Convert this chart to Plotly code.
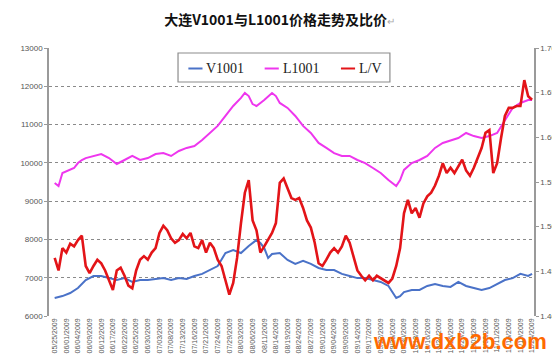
import plotly.graph_objects as go

# Tick labels (every 3rd trading day)
tick_labels = ["05/25/2009", "06/01/2009", "06/04/2009", "06/09/2009", "06/12/2009", "06/17/2009",
               "06/22/2009", "06/25/2009", "06/30/2009", "07/03/2009", "07/08/2009", "07/13/2009",
               "07/16/2009", "07/21/2009", "07/24/2009", "07/29/2009", "08/03/2009", "08/06/2009",
               "08/11/2009", "08/14/2009", "08/19/2009", "08/24/2009", "08/27/2009", "09/01/2009",
               "09/04/2009", "09/09/2009", "09/14/2009", "09/17/2009", "09/22/2009", "09/25/2009",
               "09/30/2009", "10/13/2009", "10/16/2009", "10/21/2009", "10/26/2009", "10/29/2009",
               "11/03/2009", "11/06/2009", "11/11/2009", "11/16/2009", "11/19/2009", "11/24/2009"]

# V1001 (left axis), sampled by trading-day index
v_day = [0, 2, 4, 6, 8, 10, 12, 14, 16, 18, 20, 22, 24, 26, 28, 30, 32, 34, 36, 38, 40, 42, 44, 46,
         48, 50, 52, 53, 54, 55, 56, 58, 60, 62, 64, 66, 68, 70, 72, 74, 76, 78, 80, 82, 84, 86, 87,
         88, 89, 90, 92, 94, 96, 98, 100, 102, 104, 106, 108, 110, 112, 114, 116, 118, 120, 122, 123]
v1001 = [6470, 6520, 6600, 6730, 6940, 7045, 7045, 6990, 6940, 6990, 6890, 6940, 6940, 6965, 6990,
         6940, 6990, 6965, 7045, 7100, 7200, 7305, 7645, 7725, 7645, 7830, 7985, 7905, 7775, 7515,
         7620, 7645, 7465, 7360, 7440, 7360, 7255, 7200, 7200, 7100, 7045, 6990, 6990, 6940, 6890,
         6785, 6625, 6470, 6520, 6625, 6680, 6680, 6785, 6835, 6785, 6760, 6890, 6785, 6730, 6680,
         6730, 6835, 6940, 6990, 7100, 7045, 7100]

# L1001 (left axis)
l_day = [0, 1, 2, 3, 4, 5, 6, 7, 8, 10, 12, 14, 16, 18, 20, 22, 24, 26, 28, 30, 32, 34, 36, 38, 40,
         42, 44, 46, 48, 49, 50, 51, 52, 54, 56, 57, 58, 60, 62, 64, 66, 68, 70, 72, 74, 76, 78, 80,
         82, 84, 86, 88, 89, 90, 92, 94, 96, 98, 100, 102, 104, 106, 108, 110, 112, 114, 116, 118,
         120, 122, 123]
l1001 = [9475, 9395, 9735, 9785, 9815, 9865, 9995, 10075, 10125, 10180, 10230, 10125, 9970, 10075,
         10180, 10075, 10125, 10230, 10255, 10180, 10310, 10390, 10440, 10595, 10780, 10965, 11225,
         11485, 11695, 11825, 11745, 11535, 11485, 11640, 11825, 11745, 11565, 11435, 11225, 10965,
         10780, 10520, 10390, 10255, 10180, 10180, 10075, 9995, 9865, 9735, 9550, 9395, 9550, 9815,
         9995, 10075, 10180, 10390, 10520, 10595, 10650, 10780, 10700, 10650, 10700, 10780, 11120,
         11435, 11565, 11640, 11640]

# L/V ratio (right axis), every trading day
r_day = list(range(124))
ratio = [1.465, 1.451, 1.476, 1.471, 1.481, 1.478, 1.485, 1.490, 1.456, 1.448, 1.456, 1.463, 1.459,
         1.451, 1.440, 1.429, 1.451, 1.454, 1.445, 1.434, 1.431, 1.451, 1.463, 1.467, 1.463, 1.471,
         1.476, 1.493, 1.501, 1.496, 1.487, 1.482, 1.485, 1.492, 1.487, 1.493, 1.478, 1.476, 1.485,
         1.471, 1.482, 1.476, 1.463, 1.456, 1.440, 1.424, 1.437, 1.465, 1.504, 1.538, 1.552, 1.507,
         1.496, 1.471, 1.478, 1.485, 1.493, 1.504, 1.549, 1.554, 1.543, 1.532, 1.530, 1.532, 1.521,
         1.507, 1.499, 1.482, 1.459, 1.456, 1.463, 1.471, 1.476, 1.471, 1.478, 1.490, 1.482, 1.465,
         1.451, 1.445, 1.440, 1.445, 1.440, 1.445, 1.442, 1.440, 1.437, 1.442, 1.456, 1.476, 1.515,
         1.530, 1.515, 1.521, 1.510, 1.526, 1.534, 1.538, 1.546, 1.557, 1.571, 1.560, 1.566, 1.560,
         1.568, 1.575, 1.563, 1.557, 1.566, 1.577, 1.588, 1.605, 1.608, 1.560, 1.571, 1.599, 1.624,
         1.633, 1.633, 1.635, 1.635, 1.664, 1.646, 1.642]

series_names = ["V1001", "L1001", "L/V"]
series_colors = ["#4A72C8", "#EE36EE", "#E31418"]

tick_vals = list(range(0, 3 * len(tick_labels), 3))

fig = go.Figure()
fig.add_trace(go.Scatter(x=v_day, y=v1001, name=series_names[0], mode="lines",
                         line=dict(color=series_colors[0], width=2)))
fig.add_trace(go.Scatter(x=l_day, y=l1001, name=series_names[1], mode="lines",
                         line=dict(color=series_colors[1], width=2)))
fig.add_trace(go.Scatter(x=r_day, y=ratio, name=series_names[2], mode="lines", yaxis="y2",
                         line=dict(color=series_colors[2], width=2.6)))

axis_font = dict(family="Liberation Sans", size=8, color="#555")

# plot area geometry in pixels (for converting legend layout)
W, H = 560, 357
ML, MR, MT, MB = 27, 18, 40, 49
PW, PH = W - ML - MR, H - MT - MB


def px(xp):
    return (xp - ML) / PW


def py(yp):
    return (H - MB - yp) / PH


fig.update_layout(
    width=W, height=H,
    margin=dict(l=ML, r=MR, t=MT, b=MB),
    paper_bgcolor="white", plot_bgcolor="white",
    showlegend=False,
    title=dict(text="大连V1001与L1001价格走势及比价<span style='color:#aaa;font-size:10px;font-weight:normal'>↵</span>",
               x=0.485, xanchor="center", y=0.965, yanchor="middle",
               font=dict(family="Noto Sans CJK SC", size=14, color="#111", weight="bold")),
    xaxis=dict(range=[-1.46, 123.5], tickmode="array", tickvals=tick_vals, ticktext=tick_labels,
               tickangle=-90, tickfont=dict(family="Liberation Sans", size=7, color="#555"),
               showgrid=False, zeroline=False, showline=False, ticks=""),
    yaxis=dict(range=[6000, 13000], dtick=1000, tickformat="d", tickfont=axis_font,
               showgrid=True, gridcolor="#8a8a8a", griddash="dot", gridwidth=1,
               showline=True, linecolor="#9a9a9a", linewidth=1.5, zeroline=False,
               ticks="outside", ticklen=3, tickcolor="#9a9a9a"),
    yaxis2=dict(range=[1.40, 1.70], dtick=0.05, tickformat=".2f", overlaying="y", side="right",
                tickfont=axis_font, showgrid=False, zeroline=False,
                showline=True, linecolor="#9a9a9a", linewidth=1.5,
                ticks="outside", ticklen=3, tickcolor="#9a9a9a"),
)

# Legend box (drawn manually to match the compact original legend)
fig.add_shape(type="rect", xref="paper", yref="paper",
              x0=px(164), x1=px(389), y0=py(74), y1=py(45),
              line=dict(color="#8c8c8c", width=1.2), fillcolor="white", layer="above")
legend_x = [175, 256, 337]
for name, color, lx in zip(series_names, series_colors, legend_x):
    fig.add_shape(type="line", xref="paper", yref="paper",
                  x0=px(lx), x1=px(lx + 15), y0=py(60.5), y1=py(60.5),
                  line=dict(color=color, width=2), layer="above")
    fig.add_annotation(text=name, xref="paper", yref="paper", x=px(lx + 17), y=py(60.5),
                       xanchor="left", yanchor="middle", showarrow=False,
                       font=dict(family="Liberation Serif", size=14, color="#222"))

fig.add_annotation(text="<b>www.dxb2b.com</b>", xref="paper", yref="paper",
                   x=1.03, y=-0.04, xanchor="right", yanchor="top", showarrow=False,
                   font=dict(family="Liberation Sans", size=22, color="#FF6A00"))

fig.write_html("out.html")
